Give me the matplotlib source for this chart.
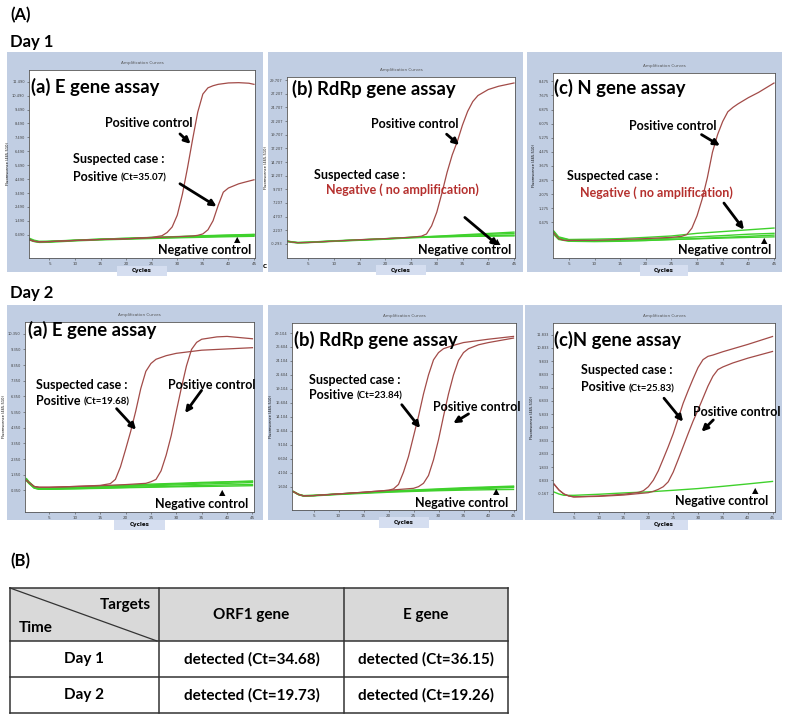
import matplotlib
matplotlib.use("Agg")
import matplotlib.pyplot as plt
from matplotlib.patches import Rectangle

W, H = 787, 719
FONT = ["Lato", "DejaVu Sans"]
plt.rcParams["font.family"] = FONT

RED = "#a24b48"
GREEN = "#3fd12c"
FRAME = "#c1cee3"
BOX = "#d5def0"
DARK_RED = "#b5302e"
NOTE = 9
TITLE = 13.3

X_TICKS = [5, 10, 15, 20, 25, 30, 35, 40, 45]

# ---------------- Day 1, E gene ----------------
d1e_ticks = ["0.490", "1.490", "2.490", "3.490", "4.490", "5.490", "6.490",
             "7.490", "8.490", "9.490", "10.490", "11.490"]
d1e_pos_cyc = [1, 2, 3, 5, 10, 15, 20, 25, 27, 28, 29, 30, 31, 32, 33, 34, 35,
               36, 37, 38, 40, 42, 44, 45]
d1e_pos = [0.15, 0.02, -0.02, 0.0, 0.08, 0.15, 0.2, 0.3, 0.42, 0.65, 1.05, 1.9,
           3.4, 5.3, 7.35, 9.3, 10.6, 11.05, 11.2, 11.3, 11.4, 11.42, 11.38, 11.3]
d1e_case_cyc = [1, 2, 3, 5, 10, 15, 20, 25, 30, 33, 34, 35, 36, 37, 38, 39, 40,
                41, 42, 43, 45]
d1e_case = [0.15, 0.02, -0.02, 0.0, 0.08, 0.15, 0.2, 0.28, 0.35, 0.4, 0.45, 0.55,
            0.85, 1.5, 2.6, 3.55, 3.85, 4.0, 4.15, 4.25, 4.44]
d1e_neg_cyc = [1, 2, 3, 5, 10, 15, 20, 25, 30, 35, 40, 45]
d1e_neg = [
    [0.2, 0.05, -0.02, 0.0, 0.08, 0.15, 0.2, 0.26, 0.3, 0.35, 0.4, 0.44],
    [0.25, 0.1, 0.02, 0.03, 0.1, 0.18, 0.23, 0.29, 0.34, 0.4, 0.45, 0.5],
    [0.12, 0.0, -0.06, -0.05, 0.05, 0.12, 0.17, 0.22, 0.27, 0.31, 0.35, 0.38],
    [0.18, 0.03, -0.03, 0.0, 0.1, 0.17, 0.24, 0.3, 0.36, 0.42, 0.47, 0.52],
]

# ---------------- Day 1, RdRp gene ----------------
d1r_ticks = ["-0.293", "2.207", "4.707", "7.207", "9.707", "12.207", "14.707",
             "17.207", "19.707", "22.207", "24.707", "27.207", "29.707"]
d1r_pos_cyc = [1, 2, 3, 5, 10, 15, 20, 25, 27, 28, 29, 30, 31, 32, 33, 34, 35,
               36, 37, 38, 40, 42, 45]
d1r_pos = [0.15, 0.0, -0.1, -0.05, 0.2, 0.45, 0.65, 0.9, 1.1, 1.5, 3.0, 5.5, 9.0,
           12.8, 16.0, 18.5, 21.5, 24.0, 25.8, 26.9, 28.0, 28.6, 29.2]
d1r_neg_cyc = [1, 2, 3, 5, 10, 15, 20, 25, 30, 35, 40, 45]
d1r_neg = [
    [0.15, 0.0, -0.1, -0.05, 0.2, 0.4, 0.6, 0.85, 1.0, 1.1, 1.2, 1.3],
    [0.2, 0.05, -0.05, 0.0, 0.25, 0.45, 0.65, 0.9, 1.1, 1.35, 1.6, 1.85],
    [0.1, -0.05, -0.12, -0.08, 0.15, 0.35, 0.55, 0.8, 0.95, 1.05, 1.1, 1.15],
    [0.18, 0.02, -0.08, -0.02, 0.22, 0.42, 0.62, 0.88, 1.05, 1.25, 1.45, 1.6],
]

# ---------------- Day 1, N gene ----------------
d1n_ticks = ["0.475", "1.275", "2.075", "2.875", "3.675", "4.475", "5.275",
             "6.075", "6.875", "7.675", "8.475"]
d1n_pos_cyc = [2, 3, 4, 5, 10, 15, 20, 25, 27, 28, 29, 30, 31, 32, 33, 34, 35,
               36, 37, 38, 40, 42, 45]
d1n_pos = [-0.1, -0.45, -0.55, -0.55, -0.55, -0.5, -0.45, -0.38, -0.32, -0.22,
           0.15, 0.85, 1.8, 3.0, 4.45, 5.45, 6.2, 6.75, 7.0, 7.2, 7.55, 7.85, 8.38]
d1n_neg_cyc = [2, 3, 5, 10, 15, 20, 25, 30, 35, 40, 45]
d1n_neg = [
    [0.0, -0.35, -0.5, -0.48, -0.45, -0.38, -0.3, -0.15, -0.05, 0.05, 0.15],
    [-0.1, -0.45, -0.58, -0.55, -0.55, -0.5, -0.42, -0.35, -0.28, -0.2, -0.15],
    [-0.2, -0.5, -0.6, -0.62, -0.6, -0.55, -0.5, -0.45, -0.38, -0.32, -0.25],
    [-0.05, -0.4, -0.52, -0.6, -0.58, -0.56, -0.5, -0.46, -0.42, -0.38, -0.35],
]

# ---------------- Day 2, E gene ----------------
d2e_ticks = ["0.350", "1.350", "2.350", "3.350", "4.350", "5.350", "6.350",
             "7.350", "8.350", "9.350", "10.350"]
d2e_case_cyc = [0.5, 1, 2, 3, 5, 10, 15, 17, 18, 19, 20, 21, 22, 23, 24, 25, 26,
                28, 30, 35, 40, 45]
d2e_case = [0.99, 0.85, 0.6, 0.55, 0.55, 0.6, 0.67, 0.78, 1.05, 1.85, 2.95, 4.1,
            5.4, 6.85, 7.95, 8.45, 8.72, 8.95, 9.1, 9.3, 9.38, 9.46]
d2e_pos_cyc = [0.5, 1, 2, 3, 5, 10, 15, 20, 24, 25, 26, 27, 28, 29, 30, 31, 32,
               33, 34, 35, 38, 40, 45]
d2e_pos = [0.99, 0.85, 0.6, 0.55, 0.55, 0.6, 0.65, 0.72, 0.8, 0.9, 1.05, 1.6,
           2.6, 3.85, 5.4, 6.9, 8.3, 9.35, 9.8, 10.0, 10.15, 10.18, 10.03]
d2e_neg_cyc = [0.5, 1, 2, 3, 5, 10, 15, 20, 25, 30, 35, 40, 45]
d2e_neg = [
    [1.05, 0.85, 0.55, 0.45, 0.45, 0.5, 0.55, 0.6, 0.65, 0.7, 0.75, 0.8, 0.85],
    [1.0, 0.8, 0.5, 0.42, 0.42, 0.46, 0.5, 0.54, 0.58, 0.62, 0.66, 0.7, 0.72],
    [1.1, 0.9, 0.6, 0.5, 0.5, 0.55, 0.62, 0.68, 0.75, 0.8, 0.86, 0.9, 0.95],
    [0.95, 0.78, 0.5, 0.42, 0.43, 0.45, 0.48, 0.52, 0.55, 0.58, 0.6, 0.62, 0.65],
    [1.02, 0.82, 0.55, 0.47, 0.46, 0.5, 0.56, 0.64, 0.7, 0.76, 0.82, 0.88, 0.92],
]

# ---------------- Day 2, RdRp gene ----------------
d2r_ticks = ["1.604", "4.104", "6.604", "9.104", "11.604", "14.104", "16.604",
             "19.104", "21.604", "24.104", "26.604", "29.104"]
d2r_case_cyc = [1, 2, 3, 5, 10, 15, 20, 21, 22, 23, 24, 25, 26, 27, 28, 29, 30,
                31, 33, 35, 40, 45]
d2r_case = [0.7, 0.2, -0.05, 0.0, 0.3, 0.6, 0.95, 1.2, 2.0, 4.2, 7.0, 10.6, 14.2,
            18.2, 21.6, 24.3, 25.6, 26.3, 26.9, 27.4, 28.0, 28.5]
d2r_pos_cyc = [1, 2, 3, 5, 10, 15, 20, 25, 26, 27, 28, 29, 30, 31, 32, 33, 34,
               35, 36, 38, 40, 45]
d2r_pos = [0.7, 0.2, -0.05, 0.0, 0.3, 0.6, 0.95, 1.3, 1.6, 2.2, 3.6, 6.4, 10.0,
           14.2, 18.2, 21.6, 24.2, 25.6, 26.3, 27.0, 27.4, 28.2]
d2r_neg_cyc = [1, 2, 3, 5, 10, 15, 20, 25, 30, 35, 40, 45]
d2r_neg = [
    [0.7, 0.2, -0.05, 0.0, 0.25, 0.5, 0.7, 0.85, 1.0, 1.15, 1.3, 1.45],
    [0.75, 0.25, 0.0, 0.05, 0.3, 0.55, 0.8, 1.0, 1.2, 1.4, 1.55, 1.7],
    [0.65, 0.15, -0.1, -0.05, 0.2, 0.4, 0.6, 0.75, 0.88, 0.98, 1.05, 1.1],
    [0.72, 0.22, -0.02, 0.02, 0.28, 0.52, 0.75, 0.92, 1.1, 1.28, 1.45, 1.6],
]

# ---------------- Day 2, N gene ----------------
d2n_ticks = ["-0.167", "0.833", "1.833", "2.833", "3.833", "4.833", "5.833",
             "6.833", "7.833", "8.833", "9.833", "10.833", "11.833"]
d2n_case_cyc = [1, 2, 3, 4, 5, 10, 15, 18, 19, 20, 21, 22, 23, 24, 25, 26, 27, 28,
                29, 30, 31, 32, 33, 35, 40, 45]
d2n_case = [0.55, 0.1, -0.2, -0.35, -0.42, -0.35, -0.22, -0.08, 0.05, 0.35, 0.84,
            1.55, 2.45, 3.37, 4.35, 5.5, 6.65, 7.6, 8.5, 9.35, 9.95, 10.2, 10.3,
            10.55, 11.1, 11.7]
d2n_pos_cyc = [1, 2, 3, 4, 5, 10, 15, 20, 21, 22, 23, 24, 25, 26, 27, 28, 29, 30,
               31, 32, 33, 34, 35, 37, 40, 45]
d2n_pos = [0.55, 0.1, -0.2, -0.35, -0.42, -0.38, -0.28, -0.1, 0.0, 0.15, 0.35,
           0.72, 1.45, 2.4, 3.37, 4.35, 5.3, 6.15, 7.05, 7.95, 8.7, 9.2, 9.4, 9.7,
           10.06, 10.57]
d2n_neg_cyc = [1, 2, 3, 5, 10, 15, 20, 25, 30, 35, 40, 45]
d2n_neg = [
    [-0.05, -0.2, -0.3, -0.3, -0.22, -0.12, -0.04, 0.08, 0.21, 0.38, 0.56, 0.75],
]

# ---------------- Table (B) ----------------
table_corner = ["Targets", "Time"]
table_cols = ["ORF1 gene", "E gene"]
table_rows = ["Day 1", "Day 2"]
table_cells = [["detected (Ct=34.68)", "detected (Ct=36.15)"],
               ["detected (Ct=19.73)", "detected (Ct=19.26)"]]


fig = plt.figure(figsize=(W / 100, H / 100), dpi=100)


def px_rect(x0, y0, x1, y1):
    return [x0 / W, 1 - y1 / H, (x1 - x0) / W, (y1 - y0) / H]


def draw_panel(frame, box, xlim, ylim, tick_labels, neg_cyc, negs, reds, title):
    fx0, fy0, fx1, fy1 = frame
    fig.add_artist(Rectangle((fx0 / W, 1 - fy1 / H), (fx1 - fx0) / W, (fy1 - fy0) / H,
                             transform=fig.transFigure, facecolor=FRAME,
                             edgecolor="none", zorder=-5))
    ax = fig.add_axes(px_rect(*box))
    for vals in negs:
        ax.plot(neg_cyc, vals, color=GREEN, lw=1.0)
    for cyc, vals in reds:
        ax.plot(cyc, vals, color=RED, lw=0.9)
    ax.set_xlim(*xlim)
    ax.set_ylim(*ylim)
    ax.set_xticks(X_TICKS)
    ax.set_xticklabels([str(t) for t in X_TICKS], fontsize=3, family="DejaVu Sans")
    ax.set_yticks([float(t) for t in tick_labels])
    ax.set_yticklabels(tick_labels, fontsize=2.6, family="DejaVu Sans")
    ax.tick_params(length=1.5, width=0.4, pad=1.5, colors="#444444")
    for sp in ax.spines.values():
        sp.set_color("#555555")
        sp.set_linewidth(0.6)
    ax.set_title("Amplification Curves", fontsize=3, pad=4, color="#555555",
                 family="DejaVu Sans")
    ax.set_ylabel("Fluorescence (465-510)", fontsize=2.6, labelpad=1.5,
                  family="DejaVu Sans")
    ax.add_patch(Rectangle((0.39, -0.095), 0.22, 0.055, transform=ax.transAxes,
                           clip_on=False, facecolor=BOX, edgecolor="none"))
    ax.text(0.5, -0.068, "Cycles", transform=ax.transAxes, ha="center",
            va="center", fontsize=4, fontweight="bold", family="DejaVu Sans")
    ax.text(title[1], title[2], title[0], transform=ax.transAxes, ha="left",
            va="center", fontsize=TITLE, fontweight="bold")
    return ax


def label(ax, x, y, s, ha="left", color="black", size=NOTE):
    return ax.text(x, y, s, transform=ax.transAxes, ha=ha, va="center",
                   fontsize=size, fontweight="bold", color=color)


def positive(ax, x, y, ct):
    t = ax.text(x, y, "Positive", transform=ax.transAxes, ha="left",
                va="bottom", fontsize=NOTE, fontweight="bold")
    ax.annotate(ct, xy=(1, 0), xycoords=t, xytext=(2.5, 0),
                textcoords="offset points", ha="left", va="bottom",
                fontsize=7, fontweight="bold")


def arrow(ax, tail, head):
    ax.annotate("", xy=head, xycoords="axes fraction", xytext=tail,
                textcoords="axes fraction",
                arrowprops=dict(arrowstyle="-|>", lw=2.0, color="black",
                                mutation_scale=9, shrinkA=0, shrinkB=0))


def neg_control(ax, x, y, tri):
    label(ax, x, y, "Negative control", ha="right")
    ax.text(tri[0], tri[1], "\u25b2", transform=ax.transAxes, ha="center",
            va="center", fontsize=6, family="DejaVu Sans")


# ---- Day 1 ----
ax = draw_panel((7, 52, 263, 272), (29, 70, 255, 258), (1, 45.2), (-1.18, 12.33),
                d1e_ticks, d1e_neg_cyc, d1e_neg,
                [(d1e_case_cyc, d1e_case), (d1e_pos_cyc, d1e_pos)],
                ("(a) E gene assay", 0.01, 0.91))
label(ax, 0.53, 0.717, "Positive control", ha="center")
arrow(ax, (0.668, 0.66), (0.715, 0.607))
label(ax, 0.195, 0.527, "Suspected case :")
positive(ax, 0.195, 0.40, "(Ct=35.07)")
arrow(ax, (0.668, 0.395), (0.83, 0.274))
neg_control(ax, 0.985, 0.04, (0.92, 0.097))

ax = draw_panel((268, 52, 523, 272), (287, 77, 515, 258), (0.9, 45.2), (-2.9, 30.3),
                d1r_ticks, d1r_neg_cyc, d1r_neg, [(d1r_pos_cyc, d1r_pos)],
                ("(b) RdRp gene assay", 0.023, 0.936))
label(ax, 0.56, 0.74, "Positive control", ha="center")
arrow(ax, (0.70, 0.684), (0.755, 0.624))
label(ax, 0.119, 0.459, "Suspected case :")
label(ax, 0.173, 0.38, "Negative ( no amplification)", color=DARK_RED)
arrow(ax, (0.78, 0.224), (0.927, 0.068))
neg_control(ax, 0.985, 0.042, (0.922, 0.092))

ax = draw_panel((527, 52, 782, 272), (553, 73, 775, 258), (1.9, 45.2), (-1.55, 8.95),
                d1n_ticks, d1n_neg_cyc, d1n_neg, [(d1n_pos_cyc, d1n_pos)],
                ("(c) N gene assay", 0.005, 0.92))
label(ax, 0.541, 0.715, "Positive control", ha="center")
arrow(ax, (0.669, 0.667), (0.752, 0.607))
label(ax, 0.065, 0.441, "Suspected case :")
label(ax, 0.12, 0.351, "Negative ( no amplification)", color=DARK_RED)
arrow(ax, (0.77, 0.297), (0.86, 0.153))
neg_control(ax, 0.985, 0.041, (0.952, 0.095))

# ---- Day 2 ----
ax = draw_panel((7, 305, 263, 520), (25, 322, 254, 512), (0.2, 45.3), (-1.03, 11.1),
                d2e_ticks, d2e_neg_cyc, d2e_neg,
                [(d2e_case_cyc, d2e_case), (d2e_pos_cyc, d2e_pos)],
                ("(a) E gene assay", 0.015, 0.956))
label(ax, 0.048, 0.667, "Suspected case :")
positive(ax, 0.048, 0.555, "(Ct=19.68)")
arrow(ax, (0.40, 0.544), (0.485, 0.433))
label(ax, 0.815, 0.667, "Positive control", ha="center")
arrow(ax, (0.771, 0.64), (0.699, 0.521))
neg_control(ax, 0.975, 0.044, (0.863, 0.105))

ax = draw_panel((268, 305, 523, 520), (292, 323, 516, 510), (0.7, 45.5), (-2.58, 30.9),
                d2r_ticks, d2r_neg_cyc, d2r_neg,
                [(d2r_case_cyc, d2r_case), (d2r_pos_cyc, d2r_pos)],
                ("(b) RdRp gene assay", 0.007, 0.911))
label(ax, 0.074, 0.696, "Suspected case :")
positive(ax, 0.074, 0.585, "(Ct=23.84)")
arrow(ax, (0.49, 0.563), (0.572, 0.438))
label(ax, 0.825, 0.55, "Positive control", ha="center")
arrow(ax, (0.788, 0.514), (0.72, 0.464))
neg_control(ax, 0.966, 0.036, (0.911, 0.098))

ax = draw_panel((525, 305, 782, 520), (553, 323, 775, 512), (0.8, 45.5), (-1.56, 12.72),
                d2n_ticks, d2n_neg_cyc, d2n_neg,
                [(d2n_case_cyc, d2n_case), (d2n_pos_cyc, d2n_pos)],
                ("(c)N gene assay", 0.005, 0.912))
label(ax, 0.125, 0.749, "Suspected case :")
positive(ax, 0.125, 0.628, "(Ct=25.83)")
arrow(ax, (0.50, 0.602), (0.586, 0.478))
label(ax, 0.827, 0.531, "Positive control", ha="center")
arrow(ax, (0.722, 0.487), (0.669, 0.425))
neg_control(ax, 0.97, 0.058, (0.91, 0.115))

# ---- section labels ----
fig.text(10 / W, 1 - 15 / H, "(A)", fontsize=12, fontweight="bold", va="center")
fig.text(10 / W, 1 - 42 / H, "Day 1", fontsize=12, fontweight="bold", va="center")
fig.text(10 / W, 1 - 293 / H, "Day 2", fontsize=12, fontweight="bold", va="center")
fig.text(10 / W, 1 - 561 / H, "(B)", fontsize=12, fontweight="bold", va="center")
fig.text(263 / W, 1 - 265 / H, "c", fontsize=6, fontweight="bold", va="center")

# ---- table ----
tx = [10, 159, 344, 508]
ty = [588, 641, 677, 713]
tab = fig.add_axes([0, 0, 1, 1])
tab.set_xlim(0, W)
tab.set_ylim(H, 0)
tab.axis("off")
tab.add_patch(Rectangle((tx[0], ty[0]), tx[3] - tx[0], ty[1] - ty[0],
                        facecolor="#d9d9d9", edgecolor="none"))
for x in tx:
    tab.plot([x, x], [ty[0], ty[3]], color="#333333", lw=1.1)
for y in ty:
    tab.plot([tx[0], tx[3]], [y, y], color="#333333", lw=1.1)
tab.plot([tx[0], tx[1] - 2], [ty[0], ty[1]], color="#333333", lw=0.9)
tab.text(tx[1] - 8, 605, table_corner[0], ha="right", va="center", fontsize=11,
         fontweight="bold")
tab.text(tx[0] + 9, 628, table_corner[1], ha="left", va="center", fontsize=11,
         fontweight="bold")
for j, name in enumerate(table_cols):
    tab.text((tx[j + 1] + tx[j + 2]) / 2, (ty[0] + ty[1]) / 2, name, ha="center",
             va="center", fontsize=11, fontweight="bold")
for i, row in enumerate(table_rows):
    yc = (ty[i + 1] + ty[i + 2]) / 2
    tab.text((tx[0] + tx[1]) / 2, yc, row, ha="center", va="center", fontsize=11,
             fontweight="bold")
    for j, cell in enumerate(table_cells[i]):
        tab.text((tx[j + 1] + tx[j + 2]) / 2, yc, cell, ha="center", va="center",
                 fontsize=11, fontweight="bold")

fig.savefig("out.png", dpi=100)
